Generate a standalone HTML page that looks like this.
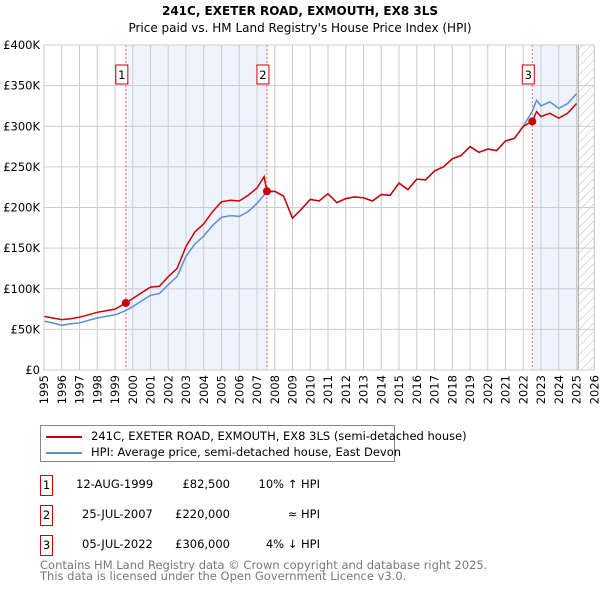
<!DOCTYPE html>
<html><head><meta charset="utf-8">
<style>
body{margin:0;background:#fff;font-family:"DejaVu Sans","Liberation Sans",sans-serif;}
#wrap{position:relative;width:600px;height:590px;overflow:hidden;}
.t{position:absolute;font-size:11.5px;color:#000;white-space:nowrap;}
.box{position:absolute;border:1px solid #c00;width:11px;height:19px;font-size:11.5px;text-align:center;line-height:19px;}
svg text{font-family:"DejaVu Sans","Liberation Sans",sans-serif;}
</style></head>
<body><div id="wrap">
<svg id="svg" width="600" height="420" style="position:absolute;left:0;top:0"></svg>
<div style="position:absolute;left:40px;top:425px;width:353px;height:35px;border:1px solid #888;">
 <div style="position:absolute;left:5px;top:3px;font-size:11.5px;white-space:nowrap"><span style="display:inline-block;width:36px;height:2px;background:#c00;vertical-align:middle;margin-right:9px"></span>241C, EXETER ROAD, EXMOUTH, EX8 3LS (semi-detached house)</div>
 <div style="position:absolute;left:5px;top:19px;font-size:11.5px;white-space:nowrap"><span style="display:inline-block;width:36px;height:2px;background:#5b8fd4;vertical-align:middle;margin-right:9px"></span>HPI: Average price, semi-detached house, East Devon</div>
</div>
<div class="box" style="left:40px;top:475px">1</div>
<div class="t" style="left:76px;top:477px">12-AUG-1999</div>
<div class="t" style="left:170px;top:477px;width:60px;text-align:right">£82,500</div>
<div class="t" style="left:240px;top:477px;width:80px;text-align:right">10% ↑ HPI</div>
<div class="box" style="left:40px;top:505px">2</div>
<div class="t" style="left:82px;top:507px">25-JUL-2007</div>
<div class="t" style="left:160px;top:507px;width:70px;text-align:right">£220,000</div>
<div class="t" style="left:240px;top:507px;width:80px;text-align:right">≈ HPI</div>
<div class="box" style="left:40px;top:535px">3</div>
<div class="t" style="left:82px;top:537px">05-JUL-2022</div>
<div class="t" style="left:160px;top:537px;width:70px;text-align:right">£306,000</div>
<div class="t" style="left:240px;top:537px;width:80px;text-align:right">4% ↓ HPI</div>
<div class="t" style="left:40px;top:560px;color:#777;font-size:11.5px;line-height:11px">Contains HM Land Registry data © Crown copyright and database right 2025.<br>This data is licensed under the Open Government Licence v3.0.</div>
</div>
<script>
const hpiYears=[1995,1995.5,1996,1996.5,1997,1997.5,1998,1998.5,1999,1999.5,2000,2000.5,2001,2001.5,2002,2002.5,2003,2003.5,2004,2004.5,2005,2005.5,2006,2006.5,2007,2007.5,2008,2008.5,2009,2009.5,2010,2010.5,2011,2011.5,2012,2012.5,2013,2013.5,2014,2014.5,2015,2015.5,2016,2016.5,2017,2017.5,2018,2018.5,2019,2019.5,2020,2020.5,2021,2021.5,2022,2022.5,2022.75,2023,2023.5,2024,2024.5,2025];
const hpiValues=[60,58,55,57,58,61,64,66,68,72,78,85,92,94,105,115,140,155,165,178,188,190,189,195,205,218,220,214,187,198,210,208,217,206,211,213,212,208,216,215,230,222,235,234,245,250,260,264,275,268,272,270,282,285,300,318,332,325,330,322,328,340];
const propYears=[1995,1995.5,1996,1996.5,1997,1997.5,1998,1998.5,1999,1999.61,2000,2000.5,2001,2001.5,2002,2002.5,2003,2003.5,2004,2004.5,2005,2005.5,2006,2006.5,2007,2007.4,2007.56,2008,2008.5,2009,2009.5,2010,2010.5,2011,2011.5,2012,2012.5,2013,2013.5,2014,2014.5,2015,2015.5,2016,2016.5,2017,2017.5,2018,2018.5,2019,2019.5,2020,2020.5,2021,2021.5,2022,2022.51,2022.75,2023,2023.5,2024,2024.5,2025];
const propValues=[66,64,62,63,65,68,71,73,75,82.5,88,95,102,103,115,125,152,170,180,195,207,209,208,215,224,238,220,220,214,187,198,210,208,217,206,211,213,212,208,216,215,230,222,235,234,245,250,260,264,275,268,272,270,282,285,300,306,318,312,316,310,316,328];
const saleYears=[1999.61,2007.56,2022.51];
const saleValues=[82.5,220,306];
const saleLabels=["1","2","3"];
const yTicks=[0,50,100,150,200,250,300,350,400];
const yTickLabels=["£0","£50K","£100K","£150K","£200K","£250K","£300K","£350K","£400K"];
const xTicks=[1995,1996,1997,1998,1999,2000,2001,2002,2003,2004,2005,2006,2007,2008,2009,2010,2011,2012,2013,2014,2015,2016,2017,2018,2019,2020,2021,2022,2023,2024,2025,2026];
const dataEnd=2025.1;

const X0=44,YW=17.75,Y0=370,YK=325/400;
const x=v=>X0+(v-1995)*YW, y=v=>Y0-v*YK;
const svg=document.getElementById('svg'),NS='http://www.w3.org/2000/svg';
function mk(t,a,p){const e=document.createElementNS(NS,t);for(const k in a)e.setAttribute(k,a[k]);(p||svg).appendChild(e);return e;}
const L=x(1995),R=x(2026),T=y(400);
let e;
e=mk('text',{x:300,y:15,'text-anchor':'middle','font-size':'12','font-weight':'bold'});e.textContent='241C, EXETER ROAD, EXMOUTH, EX8 3LS';


e=mk('text',{x:300,y:32,'text-anchor':'middle','font-size':'12'});e.textContent="Price paid vs. HM Land Registry's House Price Index (HPI)";


[[saleYears[0],saleYears[1]],[saleYears[2],dataEnd]].forEach((b,i)=>{
 e=mk('rect',{x:x(b[0]),y:T,width:x(b[1])-x(b[0]),height:Y0-T,fill:'#eef3fd'});
 
 
});
const defs=mk('defs',{});
const pat=mk('pattern',{id:'h',width:6,height:6,patternUnits:'userSpaceOnUse',patternTransform:'rotate(45)'},defs);
mk('line',{x1:0,y1:0,x2:0,y2:6,stroke:'#bbb','stroke-width':1},pat);
e=mk('rect',{x:x(dataEnd),y:T,width:R-x(dataEnd),height:Y0-T,fill:'url(#h)'});


xTicks.forEach(v=>{
 mk('line',{x1:x(v),y1:T,x2:x(v),y2:Y0,stroke:'#ccc','stroke-width':1});
 e=mk('text',{transform:`translate(${x(v)+4},${Y0+5}) rotate(-90)`,'text-anchor':'end','font-size':'11.5'});e.textContent=v;
 
 
});
yTicks.forEach((v,i)=>{
 mk('line',{x1:L,y1:y(v),x2:R,y2:y(v),stroke:'#ccc','stroke-width':1});
 e=mk('text',{x:L-4,y:y(v)+4,'text-anchor':'end','font-size':'11.5'});e.textContent=yTickLabels[i];
 
 
});
mk('line',{x1:x(dataEnd),y1:T,x2:x(dataEnd),y2:Y0,stroke:'#999'});
saleYears.forEach((s,i)=>{
 e=mk('line',{x1:x(s),y1:T,x2:x(s),y2:Y0,stroke:'#e66','stroke-width':1,'stroke-dasharray':'2,2'});
 
 
 e=mk('rect',{x:x(s)-6-4,y:65,width:12,height:19,fill:'#fff',stroke:'#c00'});
 
 
 e=mk('text',{x:x(s)-4,y:79,'text-anchor':'middle','font-size':'11.5'});e.textContent=saleLabels[i];
});
function path(xs,vs){return xs.map((t,i)=>(i?'L':'M')+x(t).toFixed(1)+','+y(vs[i]).toFixed(1)).join('');}
e=mk('path',{d:path(hpiYears,hpiValues),fill:'none',stroke:'#5b8fd4','stroke-width':1.5});


e=mk('path',{d:path(propYears,propValues),fill:'none',stroke:'#c00','stroke-width':1.5});


saleYears.forEach((s,i)=>{
 e=mk('circle',{cx:x(s),cy:y(saleValues[i]),r:4,fill:'#c00'});
 
 
});
mk('rect',{x:L,y:T,width:R-L,height:Y0-T,fill:'none',stroke:'#ccc'});
</script>
</body></html>
